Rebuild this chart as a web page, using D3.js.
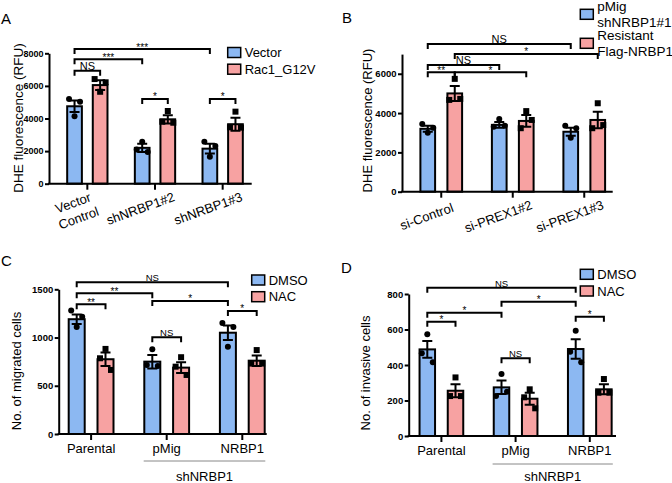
<!DOCTYPE html>
<html><head><meta charset="utf-8">
<script src="https://cdn.jsdelivr.net/npm/d3@7"></script>
<style>
body{margin:0;background:#fff}
svg{display:block;font-family:Arial,"Liberation Sans",sans-serif}
</style>
</head><body>
<svg id="c" width="672" height="483"></svg>
<script>
// ---------- Panel A ----------
const aCategories = ["Vector\nControl", "shNRBP1#2", "shNRBP1#3"];
const aSeries = ["Vector", "Rac1_G12V"];
const aMeans = [[4750, 6050], [2200, 3950], [2150, 3650]];
const aSems = [[350, 300], [250, 250], [300, 400]];
const aPoints = [
  [[5200, 5030, 4135], [6420, 6220, 5640]],
  [[2100, 1950, 2580], [3800, 3740, 4460]],
  [[2580, 2310, 1660], [3460, 3440, 4420]]
];
const aTicks = [0, 2000, 4000, 6000, 8000];
const aBrackets = [
  [0, 0, 2, 0, 8260, "***"],
  [0, 0, 1, 0, 7630, "***"],
  [0, 0, 0, 1, 6930, "NS"],
  [1, 0, 1, 1, 5200, "*"],
  [2, 0, 2, 1, 5200, "*"]
];

// ---------- Panel B ----------
const bCategories = ["si-Control", "si-PREX1#2", "si-PREX1#3"];
const bSeries = ["pMig\nshNRBP1#1", "Resistant\nFlag-NRBP1"];
const bMeans = [[3200, 5000], [3400, 3600], [3050, 3650]];
const bSems = [[150, 380], [150, 300], [200, 420]];
const bPoints = [
  [[3450, 3250, 3000], [4670, 4720, 5740]],
  [[3310, 3360, 3700], [3230, 3650, 4100]],
  [[3360, 3230, 2750], [3230, 3390, 4500]]
];
const bTicks = [0, 2000, 4000, 6000];
const bBrackets = [
  [0, 0, 2, 0, 7520, "NS"],
  [0, 1, 2, 1, 7010, "*"],
  [0, 0, 1, 0, 6450, "NS"],
  [0, 0, 0, 1, 6080, "**"],
  [0, 1, 1, 1, 6080, "*"]
];

// ---------- Panel C ----------
const cCategories = ["Parental", "pMig", "NRBP1"];
const cSeries = ["DMSO", "NAC"];
const cMeans = [[1190, 775], [750, 688], [1050, 760]];
const cSems = [[50, 70], [70, 55], [75, 55]];
const cPoints = [
  [[1280, 1215, 1110], [785, 664, 882]],
  [[715, 705, 878], [698, 612, 796]],
  [[1150, 1110, 905], [730, 730, 870]]
];
const cTicks = [0, 500, 1000, 1500];
const cBrackets = [
  [0, 0, 2, 0, 1574, "NS"],
  [0, 0, 1, 0, 1460, "**"],
  [1, 0, 2, 0, 1380, "*"],
  [0, 0, 0, 1, 1345, "**"],
  [2, 0, 2, 1, 1276, "*"],
  [1, 0, 1, 1, 1003, "NS"]
];

// ---------- Panel D ----------
const dCategories = ["Parental", "pMig", "NRBP1"];
const dSeries = ["DMSO", "NAC"];
const dMeans = [[488, 255], [274, 210], [490, 263]];
const dSems = [[47, 36], [38, 34], [55, 28]];
const dPoints = [
  [[466, 415, 573], [225, 225, 330]],
  [[225, 250, 350], [218, 156, 263]],
  [[475, 415, 593], [244, 244, 321]]
];
const dTicks = [0, 200, 400, 600, 800];
const dBrackets = [
  [0, 0, 2, 0, 835, "NS"],
  [1, 0, 2, 0, 757, "*"],
  [0, 0, 1, 0, 695, "*"],
  [0, 0, 0, 1, 644, "*"],
  [2, 0, 2, 1, 672, "*"],
  [1, 0, 1, 1, 438, "NS"]
];
const groupLabel = "shNRBP1";

const colors = ["#8cb8f2", "#f7a2a2"];
const jitter = [-5.5, 5.5, 0];
const svg = d3.select("#c");

function drawPanel(p) {
  const g = svg.append("g");
  const y = d3.scaleLinear().domain([0, p.yMax]).range([p.yBottom, p.yTop]);
  const x = d3.scaleBand().domain(p.categories).range([p.bandStart, p.bandEnd]);
  const xs = d3.scalePoint().domain(p.series).range([-p.subStep / 2, p.subStep / 2]);
  const center = ci => x(p.categories[ci]) + x.bandwidth() / 2;
  const cx = (ci, si) => center(ci) + xs(p.series[si]);

  // bars
  p.categories.forEach((c, ci) => p.series.forEach((s, si) => {
    const v = p.means[ci][si];
    const xc = cx(ci, si);
    g.append("rect").attr("x", xc - p.barW / 2).attr("y", y(v))
      .attr("width", p.barW).attr("height", y(0) - y(v))
      .attr("fill", colors[si]).attr("stroke", "#000").attr("stroke-width", 2);
  }));
  // error bars
  p.categories.forEach((c, ci) => p.series.forEach((s, si) => {
    const v = p.means[ci][si], e = p.sems[ci][si], xc = cx(ci, si);
    g.append("path")
      .attr("d", `M${xc},${y(v - e)}V${y(v + e)}M${xc - 5},${y(v + e)}H${xc + 5}M${xc - 5},${y(v - e)}H${xc + 5}`)
      .attr("stroke", "#000").attr("stroke-width", 2).attr("fill", "none");
  }));
  // points
  p.categories.forEach((c, ci) => p.series.forEach((s, si) => {
    p.points[ci][si].forEach((v, k) => {
      const px = cx(ci, si) + jitter[k], py = y(v);
      if (si === 0) g.append("circle").attr("cx", px).attr("cy", py).attr("r", 3).attr("fill", "#000");
      else g.append("rect").attr("x", px - 3).attr("y", py - 3).attr("width", 6).attr("height", 6).attr("fill", "#000");
    });
  }));

  // y axis
  const ya = g.append("g").attr("transform", `translate(${p.xAxis0},0)`)
    .call(d3.axisLeft(y).tickValues(p.ticks).tickFormat(d3.format("d"))
      .tickSize(4).tickSizeOuter(0).tickPadding(1.5));
  ya.select(".domain").attr("stroke-width", 2);
  ya.selectAll(".tick line").attr("stroke-width", 2);
  ya.selectAll(".tick text").attr("font-size", p.tickSize).attr("font-weight", "bold")
    .attr("font-family", "Arial, 'Liberation Sans', sans-serif");

  // x axis
  const xa = g.append("g").attr("transform", `translate(0,${y(0)})`)
    .call(d3.axisBottom(x).tickSize(6).tickSizeOuter(0).tickFormat(""));
  xa.select(".domain").remove();
  xa.selectAll(".tick line").attr("stroke-width", 2);
  g.append("line").attr("x1", p.xAxis0 - 1).attr("x2", p.xAxis1).attr("y1", y(0)).attr("y2", y(0))
    .attr("stroke", "#000").attr("stroke-width", 2);

  // category labels
  p.categories.forEach((c, ci) => {
    const lines = c.split("\n");
    if (p.rotate) {
      const multi = lines.length > 1;
      const t = g.append("text").attr("text-anchor", "middle").attr("font-size", 13)
        .attr("transform", `translate(${center(ci) - 13 + (multi ? 3 : 0)},${y(0) + 29 + (multi ? 2 : 0)}) rotate(-20)`);
      lines.forEach((l, i) => t.append("tspan").attr("x", 0)
        .attr("dy", i === 0 ? -(lines.length - 1) * 8 : 16).text(l));
    } else {
      g.append("text").attr("text-anchor", "middle").attr("font-size", 13)
        .attr("x", center(ci)).attr("y", y(0) + 19).text(c);
    }
  });

  // group line
  if (p.group) {
    const x1 = center(1) - 23, x2 = center(2) + 23;
    g.append("line").attr("x1", x1).attr("x2", x2).attr("y1", y(0) + p.groupLineDy).attr("y2", y(0) + p.groupLineDy)
      .attr("stroke", "#888").attr("stroke-width", 1);
    g.append("text").attr("text-anchor", "middle").attr("font-size", 13)
      .attr("x", (x1 + x2) / 2).attr("y", 480.5).text(groupLabel);
  }

  // brackets
  p.brackets.forEach(([c1, s1, c2, s2, lv, lab]) => {
    const x1 = cx(c1, s1), x2 = cx(c2, s2), yy = y(lv);
    g.append("path").attr("d", `M${x1},${yy + 5}V${yy}H${x2}V${yy + 5}`)
      .attr("stroke", "#000").attr("stroke-width", 2).attr("fill", "none");
    const isNS = lab === "NS";
    g.append("text").attr("text-anchor", "middle")
      .attr("font-size", isNS ? p.nsSize : 10)
      .attr("x", (x1 + x2) / 2).attr("y", isNS ? yy - 1 : yy + 1.5).text(lab);
  });

  // y title
  g.append("text").attr("text-anchor", "middle").attr("font-size", p.titleSize)
    .attr("transform", `translate(${p.titleX},${p.titleY}) rotate(-90)`).attr("dy", "0.35em").text(p.title);

  // legend
  p.series.forEach((s, si) => {
    const top = p.legY + si * p.legGap;
    g.append("rect").attr("x", p.legX).attr("y", top).attr("width", 13).attr("height", 10)
      .attr("fill", colors[si]).attr("stroke", "#000").attr("stroke-width", 1.5);
    const lines = s.split("\n");
    lines.forEach((l, i) => {
      g.append("text").attr("font-size", p.legSize).attr("x", p.legX + 17)
        .attr("y", top + 5 + 4.6 + (i - (lines.length - 1) / 2) * 15.5).text(l);
    });
  });

  // panel letter
  g.append("text").attr("font-size", 15).attr("x", p.letterX).attr("y", p.letterY).text(p.letter);
}

drawPanel({
  categories: aCategories, series: aSeries, means: aMeans, sems: aSems, points: aPoints,
  ticks: aTicks, brackets: aBrackets, yMax: 8000, yBottom: 183.7, yTop: 53.3,
  xAxis0: 49, xAxis1: 251.7, bandStart: 53.5, bandEnd: 256.5, subStep: 25.6, barW: 14.7,
  rotate: true, nsSize: 11, tickSize: 9, title: "DHE fluorescence (RFU)", titleX: 18.3, titleY: 118, titleSize: 13.5,
  legX: 227.7, legY: 47.5, legGap: 16.7, legSize: 13, letter: "A", letterX: 1, letterY: 24
});
drawPanel({
  categories: bCategories, series: bSeries, means: bMeans, sems: bSems, points: bPoints,
  ticks: bTicks, brackets: bBrackets, yMax: 7000, yBottom: 191.7, yTop: 54.1,
  xAxis0: 402, xAxis1: 612.7, bandStart: 405.5, bandEnd: 620, subStep: 27, barW: 14.7,
  rotate: true, nsSize: 11, tickSize: 9.5, title: "DHE fluorescence (RFU)", titleX: 367.7, titleY: 120.5, titleSize: 13,
  legX: 580.3, legY: 9.3, legGap: 29, legSize: 13.5, letter: "B", letterX: 342, letterY: 23
});
drawPanel({
  categories: cCategories, series: cSeries, means: cMeans, sems: cSems, points: cPoints,
  ticks: cTicks, brackets: cBrackets, yMax: 1500, yBottom: 434, yTop: 289.3,
  xAxis0: 58.7, xAxis1: 266.7, bandStart: 53.3, bandEnd: 280.1, subStep: 28.8, barW: 16,
  rotate: false, group: true, groupLineDy: 27, nsSize: 9.5, tickSize: 9.5,
  title: "No. of migrated cells", titleX: 16.7, titleY: 371, titleSize: 13,
  legX: 251.7, legY: 275, legGap: 16.7, legSize: 13, letter: "C", letterX: 1, letterY: 266
});
drawPanel({
  categories: dCategories, series: dSeries, means: dMeans, sems: dSems, points: dPoints,
  ticks: dTicks, brackets: dBrackets, yMax: 800, yBottom: 436, yTop: 294,
  xAxis0: 408.7, xAxis1: 616, bandStart: 404.3, bandEnd: 626.9, subStep: 28.2, barW: 15.5,
  rotate: false, group: true, groupLineDy: 28, nsSize: 9.5, tickSize: 9.5,
  title: "No. of invasive cells", titleX: 365.3, titleY: 373, titleSize: 13,
  legX: 580.3, legY: 269.3, legGap: 16.7, legSize: 13, letter: "D", letterX: 341, letterY: 273.3
});
</script>
</body></html>
